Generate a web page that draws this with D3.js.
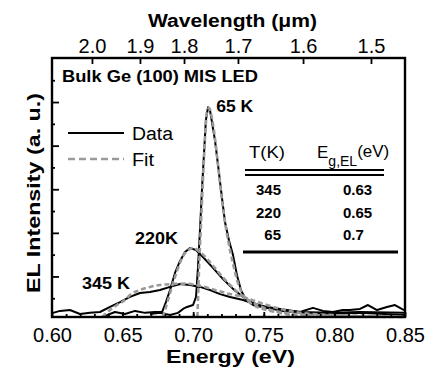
<!DOCTYPE html>
<html><head><meta charset="utf-8">
<script src="https://cdn.jsdelivr.net/npm/d3@7"></script>
<style>
html,body{margin:0;padding:0;background:#fff;}
text{font-family:"Liberation Sans",Arial,sans-serif;}
</style></head>
<body><svg id="c" width="427" height="370"></svg>
<script>
// ---- data (energy in eV, intensity in a.u.) ----
const data345E = [0.6007,0.6057,0.6127,0.6198,0.6269,0.634,0.6411,0.6482,0.6552,0.6623,0.6694,0.6765,0.6836,0.6907,0.6977,0.7048,0.7119,0.719,0.7261,0.7353,0.7438,0.7523,0.7615,0.7756,0.7848,0.7919,0.799,0.806,0.811,0.8181,0.8238,0.8302,0.8372,0.8429,0.8493];
const data345I = [0.33,0.42,0.46,0.28,0.33,0.37,0.60,0.82,1.06,1.24,1.29,1.38,1.52,1.65,1.61,1.52,1.38,1.19,1.06,0.92,0.73,0.60,0.51,0.37,0.56,0.42,0.37,0.46,0.46,0.51,0.69,0.46,0.60,0.69,0.46];
const fit345E = [0.6355,0.6411,0.646,0.6517,0.6552,0.6623,0.6694,0.6765,0.685,0.6942,0.7048,0.7154,0.7261,0.7353,0.7438,0.7523,0.765,0.7756,0.799,0.8252,0.8493];
const fit345I = [0.14,0.46,0.69,0.92,1.15,1.38,1.52,1.61,1.65,1.67,1.57,1.38,1.19,1.06,0.87,0.69,0.46,0.33,0.23,0.19,0.14];
const data220E = [0.6375,0.6446,0.6517,0.6588,0.6659,0.6729,0.678,0.6807,0.6836,0.6871,0.6906,0.6942,0.6977,0.702,0.7069,0.714,0.7211,0.7282,0.7353,0.7424,0.7523,0.7636,0.7756,0.7969,0.8181,0.8493];
const data220I = [0.19,0.37,0.28,0.42,0.33,0.37,0.37,0.82,1.38,2.16,2.70,3.12,3.30,3.21,2.89,2.39,1.88,1.43,1.06,0.78,0.56,0.42,0.33,0.28,0.33,0.23];
const fit220E = [0.6786,0.6822,0.6857,0.6893,0.6928,0.6964,0.6999,0.7048,0.7119,0.719,0.7261,0.7331,0.7402,0.7487,0.7615,0.7756,0.804,0.8493];
const fit220I = [0.14,0.92,1.69,2.39,2.93,3.21,3.30,3.12,2.66,2.11,1.61,1.19,0.87,0.60,0.37,0.26,0.19,0.15];
const data65E = [0.6694,0.6765,0.6836,0.6892,0.6928,0.6956,0.6999,0.702,0.7034,0.7048,0.7062,0.7076,0.709,0.7105,0.7119,0.7133,0.7154,0.7176,0.7197,0.7225,0.7253,0.7282,0.731,0.7338,0.7374,0.7424,0.7508,0.7636,0.7756,0.7969,0.8181,0.8493];
const data65I = [0.28,0.33,0.23,0.33,0.51,0.60,0.69,1.06,2.43,4.13,5.96,7.57,9.17,9.76,9.62,9.08,8.25,7.11,5.96,4.50,3.66,2.98,2.06,1.38,0.92,0.69,0.56,0.46,0.37,0.33,0.37,0.33];
const fit65E = [0.7030,0.7034,0.7041,0.7055,0.7069,0.7083,0.7097,0.7112,0.7133,0.7154,0.7176,0.7204,0.7232,0.7261,0.7289,0.7317,0.7346,0.7381,0.7424,0.7494,0.7615,0.7756,0.8493];
const fit65I = [0.14,0.92,2.30,4.36,6.42,8.25,9.54,9.72,9.26,8.35,7.11,5.51,4.22,3.21,2.39,1.69,1.24,0.92,0.69,0.51,0.33,0.19,0.14];

const energyTicks = [0.60,0.65,0.70,0.75,0.80,0.85];
const wavelengthLabels = ["2.0","1.9","1.8","1.7","1.6","1.5"];
const wavelengthTickEnergy = [0.6283,0.6623,0.6935,0.7317,0.7778,0.8259];
const curveLabels = ["65 K","220K","345 K"];
const curveLabelE = [0.7163,0.6588,0.6212];
const curveLabelI = [9.54,3.49,1.42];
const tableT = ["345","220","65"];
const tableEg = ["0.63","0.65","0.7"];

// ---- layout ----
const svg = d3.select("#c");
const L=52, R=405, T=58, B=317;
const x = d3.scaleLinear().domain([0.60,0.85]).range([L,R]);
const y = d3.scaleLinear().domain([0.14,12.02]).range([B,T]);

const pts = (E,I)=>E.map((e,i)=>[e,I[i]]);
const lineData = d3.line().x(d=>x(d[0])).y(d=>y(d[1]));
const lineFit = d3.line().x(d=>x(d[0])).y(d=>y(d[1])).curve(d3.curveMonotoneX);

const g = svg.append("g");
[[data345E,data345I],[data220E,data220I],[data65E,data65I]].forEach(([E,I])=>{
  g.append("path").attr("d",lineData(pts(E,I))).attr("fill","none")
   .attr("stroke","#000").attr("stroke-width",2).attr("stroke-linejoin","round");
});
[[fit345E,fit345I],[fit220E,fit220I],[fit65E,fit65I]].forEach(([E,I])=>{
  g.append("path").attr("d",lineFit(pts(E,I))).attr("fill","none")
   .attr("stroke","#9a9a9a").attr("stroke-width",2.6).attr("stroke-dasharray","5,3");
});

// axes
const axB = d3.axisBottom(x).tickValues(energyTicks).tickFormat(d3.format(".2f")).tickSize(-5).tickPadding(11);
const gB = svg.append("g").attr("transform",`translate(0,${B})`).call(axB);
const axBm = d3.axisBottom(x).tickValues(d3.range(0.61,0.85,0.01)).tickFormat("").tickSize(-3);
svg.append("g").attr("transform",`translate(0,${B})`).call(axBm).select(".domain").remove();
const axT = d3.axisTop(x).tickValues(wavelengthTickEnergy).tickFormat((d,i)=>wavelengthLabels[i]).tickSize(-6).tickPadding(5);
const gT = svg.append("g").attr("transform",`translate(0,${T})`).call(axT);
const axL = d3.axisLeft(y).tickValues(d3.range(1,12)).tickFormat("").tickSize(-5);
const gL = svg.append("g").attr("transform",`translate(${L},0)`).call(axL);
gL.selectAll(".tick line").attr("x2",d=>d%2===0?7:3);
[gB,gT].forEach(a=>{a.selectAll("text").attr("font-size",20).attr("fill","#000")
  .style("font-family","'Liberation Sans',Arial,sans-serif");});
svg.selectAll(".tick line").attr("stroke","#000").attr("stroke-width",1.8);
svg.selectAll(".domain").attr("stroke","none");
svg.append("rect").attr("x",L).attr("y",T).attr("width",R-L).attr("height",B-T)
  .attr("fill","none").attr("stroke","#000").attr("stroke-width",2.4);

// axis titles
svg.append("text").attr("x",148).attr("y",27).attr("font-size",18).attr("font-weight","bold")
  .attr("textLength",169).attr("lengthAdjust","spacingAndGlyphs").text("Wavelength (μm)");
svg.append("text").attr("x",166).attr("y",363).attr("font-size",18).attr("font-weight","bold")
  .attr("textLength",129).attr("lengthAdjust","spacingAndGlyphs").text("Energy (eV)");
svg.append("text").attr("transform","translate(40,293) rotate(-90)")
  .attr("font-size",18).attr("font-weight","bold")
  .attr("textLength",200).attr("lengthAdjust","spacingAndGlyphs").text("EL Intensity (a. u.)");

// in-plot title
svg.append("text").attr("x",62).attr("y",82).attr("font-size",17).attr("font-weight","bold")
  .attr("textLength",196).attr("lengthAdjust","spacingAndGlyphs").text("Bulk Ge (100) MIS LED");

// curve labels
const labelW = [37,43,48];
curveLabels.forEach((t,i)=>{
  svg.append("text").attr("x",x(curveLabelE[i])).attr("y",y(curveLabelI[i]))
    .attr("font-size",17).attr("font-weight","bold")
    .attr("textLength",labelW[i]).attr("lengthAdjust","spacingAndGlyphs").text(t);
});

// legend
svg.append("line").attr("x1",68).attr("x2",124).attr("y1",133).attr("y2",133)
  .attr("stroke","#000").attr("stroke-width",2);
svg.append("text").attr("x",132).attr("y",140).attr("font-size",18)
  .attr("textLength",41).attr("lengthAdjust","spacingAndGlyphs").text("Data");
svg.append("line").attr("x1",68).attr("x2",124).attr("y1",159).attr("y2",159)
  .attr("stroke","#9a9a9a").attr("stroke-width",2.6).attr("stroke-dasharray","7,4");
svg.append("text").attr("x",132).attr("y",166).attr("font-size",18)
  .attr("textLength",22).attr("lengthAdjust","spacingAndGlyphs").text("Fit");

// table
svg.append("text").attr("x",249).attr("y",158).attr("font-size",17)
  .attr("textLength",36).attr("lengthAdjust","spacingAndGlyphs").text("T(K)");
const eg = svg.append("text").attr("x",317).attr("y",158).attr("font-size",17);
eg.append("tspan").text("E");
eg.append("tspan").attr("dy",8).attr("font-size",14).text("g,EL");
eg.append("tspan").attr("dy",-9).text("(eV)");
svg.append("line").attr("x1",245).attr("x2",384).attr("y1",170).attr("y2",170).attr("stroke","#000").attr("stroke-width",2);
svg.append("line").attr("x1",245).attr("x2",384).attr("y1",175).attr("y2",175).attr("stroke","#000").attr("stroke-width",2);
tableT.forEach((t,i)=>{
  svg.append("text").attr("x",281).attr("y",195+i*22.5).attr("text-anchor","end")
    .attr("font-size",15).attr("font-weight","bold").text(t);
  svg.append("text").attr("x",343).attr("y",195+i*22.5)
    .attr("font-size",15).attr("font-weight","bold").text(tableEg[i]);
});
svg.append("line").attr("x1",243).attr("x2",398).attr("y1",252).attr("y2",252).attr("stroke","#000").attr("stroke-width",3);
</script></body></html>
